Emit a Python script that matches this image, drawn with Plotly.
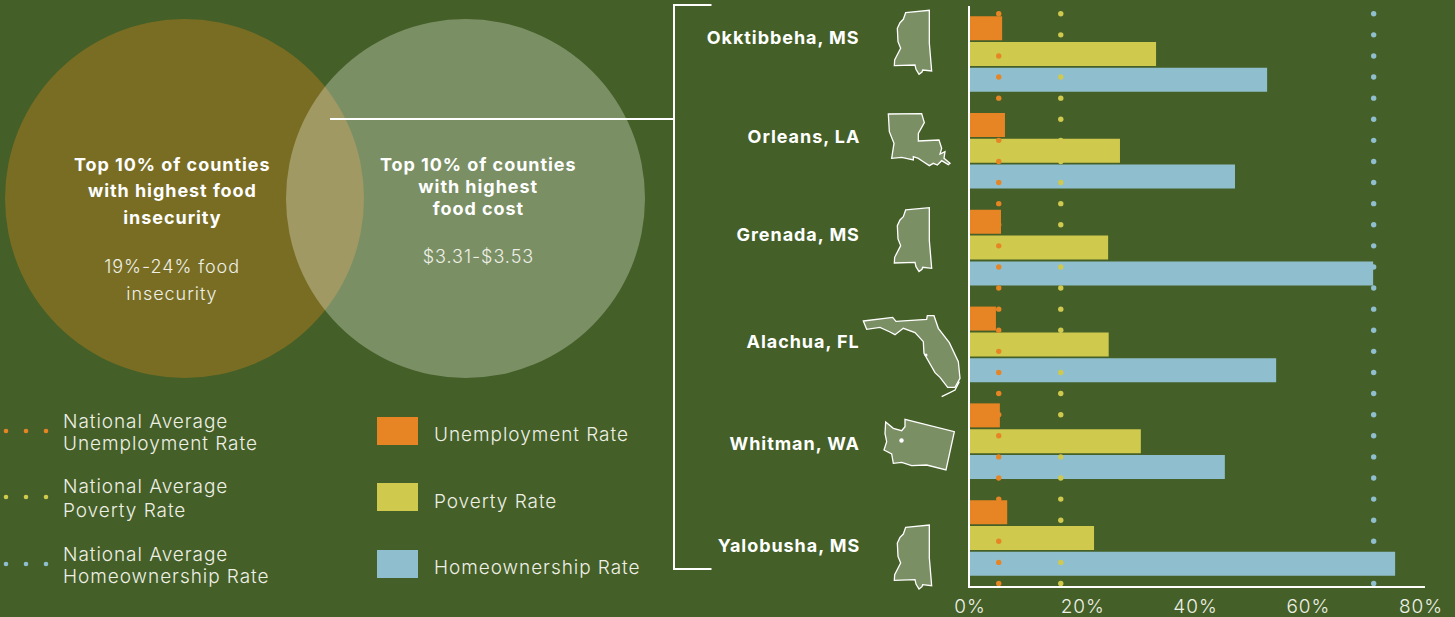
import plotly.graph_objects as go
import numpy as np

W, H = 1455, 617
BG = "#445f27"
FONT = "Inter"

counties = ["Okktibbeha, MS", "Orleans, LA", "Grenada, MS", "Alachua, FL", "Whitman, WA", "Yalobusha, MS"]
unemployment = [5.7, 6.2, 5.5, 4.6, 5.3, 6.6]
poverty = [33.0, 26.6, 24.5, 24.6, 30.3, 22.0]
homeownership = [52.7, 47.0, 71.5, 54.3, 45.2, 75.4]
nat_unemployment = 5.1
nat_poverty = 16.1
nat_homeownership = 71.6
x_ticks = [0, 20, 40, 60, 80]
x_tick_labels = ["0%", "20%", "40%", "60%", "80%"]

ORANGE, YELLOW, BLUE = "#e78525", "#cfc94e", "#8fbfce"
STATE_FILL = "#7b8f65"

def px(x):
    return x / W

def py(y):
    return 1 - y / H

rows = list(range(len(counties)))
fig = go.Figure()
for name, vals, col in [("Unemployment Rate", unemployment, ORANGE),
                        ("Poverty Rate", poverty, YELLOW),
                        ("Homeownership Rate", homeownership, BLUE)]:
    fig.add_trace(go.Bar(y=rows, x=vals, orientation="h", name=name, marker=dict(color=col, line_width=0)))

dot_rows = np.arange(28) * 0.218 - 0.416
for name, v, col in [("National Average Unemployment Rate", nat_unemployment, ORANGE),
                     ("National Average Poverty Rate", nat_poverty, YELLOW),
                     ("National Average Homeownership Rate", nat_homeownership, BLUE)]:
    fig.add_trace(go.Scatter(x=[v] * len(dot_rows), y=dot_rows, mode="markers", name=name, cliponaxis=False,
                             marker=dict(color=col, size=5.4, line_width=0)))

shapes = []

def circle(x0, y0, x1, y1, fill):
    shapes.append(dict(type="circle", xref="paper", yref="paper", x0=px(x0), x1=px(x1), y0=py(y1), y1=py(y0),
                       fillcolor=fill, line_width=0, layer="below"))

def line(x0, y0, x1, y1, col="white", w=2):
    shapes.append(dict(type="line", xref="paper", yref="paper", x0=px(x0), x1=px(x1), y0=py(y0), y1=py(y1),
                       line=dict(color=col, width=w), layer="above"))

def rect(x0, y0, x1, y1, col):
    shapes.append(dict(type="rect", xref="paper", yref="paper", x0=px(x0), x1=px(x1), y0=py(y1), y1=py(y0),
                       fillcolor=col, line_width=0, layer="above"))

def dot(cx, cy, col, r=2.4):
    shapes.append(dict(type="circle", xref="paper", yref="paper", x0=px(cx - r), x1=px(cx + r), y0=py(cy + r), y1=py(cy - r),
                       fillcolor=col, line_width=0, layer="above"))

def poly(pts, ox, oy, fill=STATE_FILL, dy=0, close=True, w=1.3):
    P = [(ox + a / 3, oy + b / 3 + dy) for a, b in pts]
    d = "M " + " L ".join(f"{px(a):.5f},{py(b):.5f}" for a, b in P) + (" Z" if close else "")
    shapes.append(dict(type="path", xref="paper", yref="paper", path=d, fillcolor=fill if close else "rgba(0,0,0,0)",
                       line=dict(color="white", width=w), layer="above"))

# Venn
circle(5, 19, 364, 378, "#796d24")
circle(286, 19, 645, 378, "rgba(251,255,245,0.30)")
# bracket
line(330, 119, 674, 119)
line(674, 5, 674, 569)
line(673, 5, 711.5, 5)
line(673, 569, 711.5, 569)

MS = [(137, 38), (208, 31), (208, 130), (215, 213), (188, 210), (186, 216), (177, 223), (168, 208), (165, 195), (103, 197),
      (104, 180), (122, 145), (114, 125), (112, 85), (120, 68), (130, 58)]
LA = [(85, 342), (185, 341), (193, 368), (175, 400), (175, 423), (237, 420), (245, 445), (240, 462), (255, 455), (252, 475),
      (270, 490), (265, 494), (245, 482), (232, 495), (220, 490), (208, 497), (190, 485), (175, 475), (160, 470), (160, 480),
      (125, 472), (95, 475), (102, 430), (88, 395)]
FL = [(10, 63), (98, 52), (108, 64), (200, 58), (202, 47), (222, 47), (235, 85), (268, 128), (295, 185), (300, 235),
      (285, 262), (263, 262), (240, 232), (225, 218), (192, 160), (190, 125), (165, 98), (130, 85), (105, 104), (90, 96),
      (60, 82), (20, 88)]
KEYS = [(245, 290), (265, 280), (285, 270), (298, 245)]
WA = [(77, 366), (100, 385), (125, 392), (135, 380), (135, 358), (283, 395), (258, 510), (200, 495), (155, 497), (125, 487),
      (100, 490), (95, 462), (72, 450), (80, 425), (75, 400)]

poly(MS, 860, 0)
poly(MS, 860, 0, dy=197.3)
poly(MS, 860, 0, dy=514.7)
poly(LA, 860, 0)
poly(FL, 860, 300)
poly(KEYS, 860, 300, close=False)
poly(WA, 860, 300)
dot(901.5, 440.5, "white", r=2.2)
dot(926, 355, "white", r=1.5)

# legend
for cy, col in [(431, ORANGE), (497, YELLOW), (564, BLUE)]:
    for cx in (6, 26, 46):
        dot(cx, cy, col, r=2.3)
for y0, col in [(417, ORANGE), (483, YELLOW), (550, BLUE)]:
    rect(377, y0, 418, y0 + 28, col)

ann = []

def text(x, y, s, size=19, bold=False, anchor="center", col="#eef0e6"):
    ann.append(dict(xref="paper", yref="paper", x=px(x), y=py(y), text=s, showarrow=False, xanchor=anchor, yanchor="middle",
                    align=anchor, font=dict(family=FONT, size=size, color=col, weight=700 if bold else 300)))

for s, y in zip(counties, [37, 136, 234, 342, 443, 545]):
    text(861.5, y, s, size=18, bold=True, anchor="right", col="white")

for s, y in [("Top 10% of counties", 164), ("with highest food", 191), ("insecurity", 217)]:
    text(172, y, s, size=18, bold=True, col="white")
for s, y in [("19%-24% food", 266), ("insecurity", 293)]:
    text(172, y, s, size=18)
for s, y in [("Top 10% of counties", 164), ("with highest", 186), ("food cost", 208)]:
    text(478, y, s, size=18, bold=True, col="white")
text(478, 256, "$3.31-$3.53", size=18)

for s, y in [("National Average", 421), ("Unemployment Rate", 443), ("National Average", 487), ("Poverty Rate", 510),
             ("National Average", 554), ("Homeownership Rate", 576)]:
    text(61, y, s, anchor="left")
for s, y in [("Unemployment Rate", 434), ("Poverty Rate", 501), ("Homeownership Rate", 567)]:
    text(432, y, s, anchor="left")

fig.update_layout(
    width=W, height=H, autosize=False, margin=dict(l=0, r=0, t=0, b=0, autoexpand=False),
    paper_bgcolor=BG, plot_bgcolor=BG, showlegend=False,
    barmode="group", bargap=0.2, bargroupgap=0.07,
    shapes=shapes, annotations=ann,
    xaxis=dict(domain=[px(970), px(1425)], range=[0, 80.7], tickvals=x_ticks, ticktext=x_tick_labels,
               showgrid=False, zeroline=False, showline=True, linecolor="white", linewidth=2,
               ticks="outside", ticklen=2, tickcolor=BG, tickwidth=0,
               tickfont=dict(family=FONT, size=19, color="#eef0e6", weight=300), anchor="y"),
    yaxis=dict(domain=[py(586.4), py(5.6)], range=[5.5, -0.5], showticklabels=False, showgrid=False, zeroline=False,
               showline=True, linecolor="white", linewidth=2, ticks=""),
)

fig.write_html("out.html", config={"displayModeBar": False},
               post_script=("document.body.style.margin='0';document.body.style.background='%s';"
                            "var s=document.createElement('style');s.textContent='svg text{letter-spacing:0.95px}';"
                            "document.head.appendChild(s);") % BG)
